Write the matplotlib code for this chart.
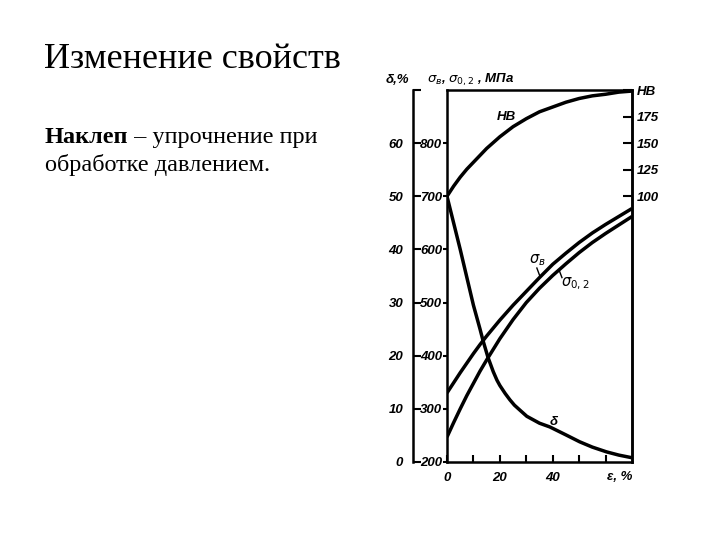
import matplotlib.pyplot as plt

# степень деформации, %
strain = [0, 2.5, 5, 7.5, 10, 12.5, 15, 20, 25, 30, 35, 40, 45, 50, 55, 60, 65, 70]
hb = [100, 109.5, 118, 125.5, 132, 138.5, 145, 156, 165.5, 173, 179.5, 184, 188.5, 192, 194.5, 196, 198, 199]
sigma_b = [330, 349, 368, 386, 404, 421, 437, 467, 495, 521, 547, 572, 593, 613, 631, 647, 662, 677]
sigma_02 = [247, 274, 300, 325, 348, 371, 392, 432, 468, 500, 527, 551, 573, 594, 613, 630, 646, 662]

delta_strain = [0, 5, 10, 12.5, 13.6, 15.5, 17.5, 18.9, 20, 22, 23.8, 25.5, 27.5, 30.2,
                35, 38.9, 45, 50.2, 55, 60.4, 65, 69, 70]
delta = [50, 40, 29.5, 25, 22.9, 19.7, 17.0, 15.4, 14.4, 12.9, 11.7, 10.7, 9.8, 8.6,
         7.3, 6.6, 5.1, 3.8, 2.8, 1.9, 1.3, 0.9, 0.8]

stress_ticks = [200, 300, 400, 500, 600, 700, 800]
delta_ticks = [0, 10, 20, 30, 40, 50, 60, 70]
delta_labels = ['0', '10', '20', '30', '40', '50', '60', '']
hb_ticks = [100, 125, 150, 175, 200]
hb_labels = ['100', '125', '150', '175', 'HB']
strain_ticks = [0, 10, 20, 30, 40, 50, 60]
strain_labels = ['0', '', '20', '', '40', '', '']

lab = dict(family='Liberation Sans', style='italic', weight='bold', size=9.5)
line = dict(color='k', lw=2.5, solid_joinstyle='round', solid_capstyle='butt')

fig = plt.figure(figsize=(7.2, 5.4), dpi=100)

# текст слайда
fig.text(44/720, 1 - 68/540, 'Изменение свойств', family='Liberation Serif',
         size=26, va='baseline')
t1 = fig.text(45/720, 1 - 143/540, 'Наклеп', family='Liberation Serif',
              weight='bold', size=17.5, va='baseline')
bb = t1.get_window_extent(fig.canvas.get_renderer())
fig.text(bb.x1/720, 1 - 143/540, ' – упрочнение при', family='Liberation Serif',
         size=17.5, va='baseline')
fig.text(45/720, 1 - 171/540, 'обработке давлением.', family='Liberation Serif',
         size=17.5, va='baseline')

# основная ось: σ, МПа
ax = fig.add_axes([447/720, 1 - 462/540, 185/720, 372/540])
ax.plot(strain, sigma_b, **line)
ax.plot(strain, sigma_02, **line)
ax.set_xlim(0, 70)
ax.set_ylim(200, 900)
ax.set_yticks(stress_ticks)
ax.set_yticklabels([str(v) for v in stress_ticks], **lab)
ax.set_xticks(strain_ticks)
ax.set_xticklabels(strain_labels, **lab)
ax.tick_params(axis='y', direction='out', length=3, width=1.5, pad=0.5)
ax.tick_params(axis='x', direction='in', length=5, width=1.5, pad=7)
for s in ax.spines.values():
    s.set_linewidth(1.8)

# δ, %
ax_d = ax.twinx()
ax_d.plot(delta_strain, delta, **line)
ax_d.set_ylim(0, 70)
ax_d.spines['left'].set_position(('axes', -34/185))
ax_d.spines['left'].set_visible(True)
ax_d.spines['left'].set_linewidth(1.8)
for k in ['right', 'top', 'bottom']:
    ax_d.spines[k].set_visible(False)
ax_d.yaxis.set_ticks_position('left')
ax_d.yaxis.set_label_position('left')
ax_d.set_yticks(delta_ticks)
ax_d.set_yticklabels(delta_labels, **lab)
ax_d.tick_params(axis='y', direction='in', length=6, width=1.5, pad=7)

# HB
ax_hb = ax.twinx()
ax_hb.plot(strain, hb, **line)
ax_hb.set_ylim(-150, 200)
ax_hb.set_yticks(hb_ticks)
ax_hb.set_yticklabels(hb_labels, **lab)
ax_hb.tick_params(axis='y', direction='in', length=6.5, width=1.5, pad=3.5)
for k in ['left', 'top', 'bottom']:
    ax_hb.spines[k].set_visible(False)
ax_hb.spines['right'].set_linewidth(1.8)

# подписи кривых
ax_hb.text(22.3, 175, 'HB', ha='center', va='center', **lab)
ax.text(34.3, 580, '$σ_в$', ha='center', va='center', size=10.5)
ax.plot([34.0, 35.2], [565, 549], 'k', lw=1)
ax.text(48.5, 535, '$σ_{0,2}$', ha='center', va='center', size=10.5)
ax.plot([42.5, 43.5], [560, 547], 'k', lw=1)
ax_d.text(40.4, 7.6, 'δ', ha='center', va='center', **lab)
ax.text(65.3, 171, 'ε, %', ha='center', va='center', **lab)

fig.text(397/720, 1 - 80/540, 'δ,%', ha='center', va='center', **lab)
fig.text(427/720, 1 - 80/540, '$σ_в$, $σ_{0,2}$ , МПа', ha='left', va='center', **lab)

fig.savefig('out.png', dpi=100)
